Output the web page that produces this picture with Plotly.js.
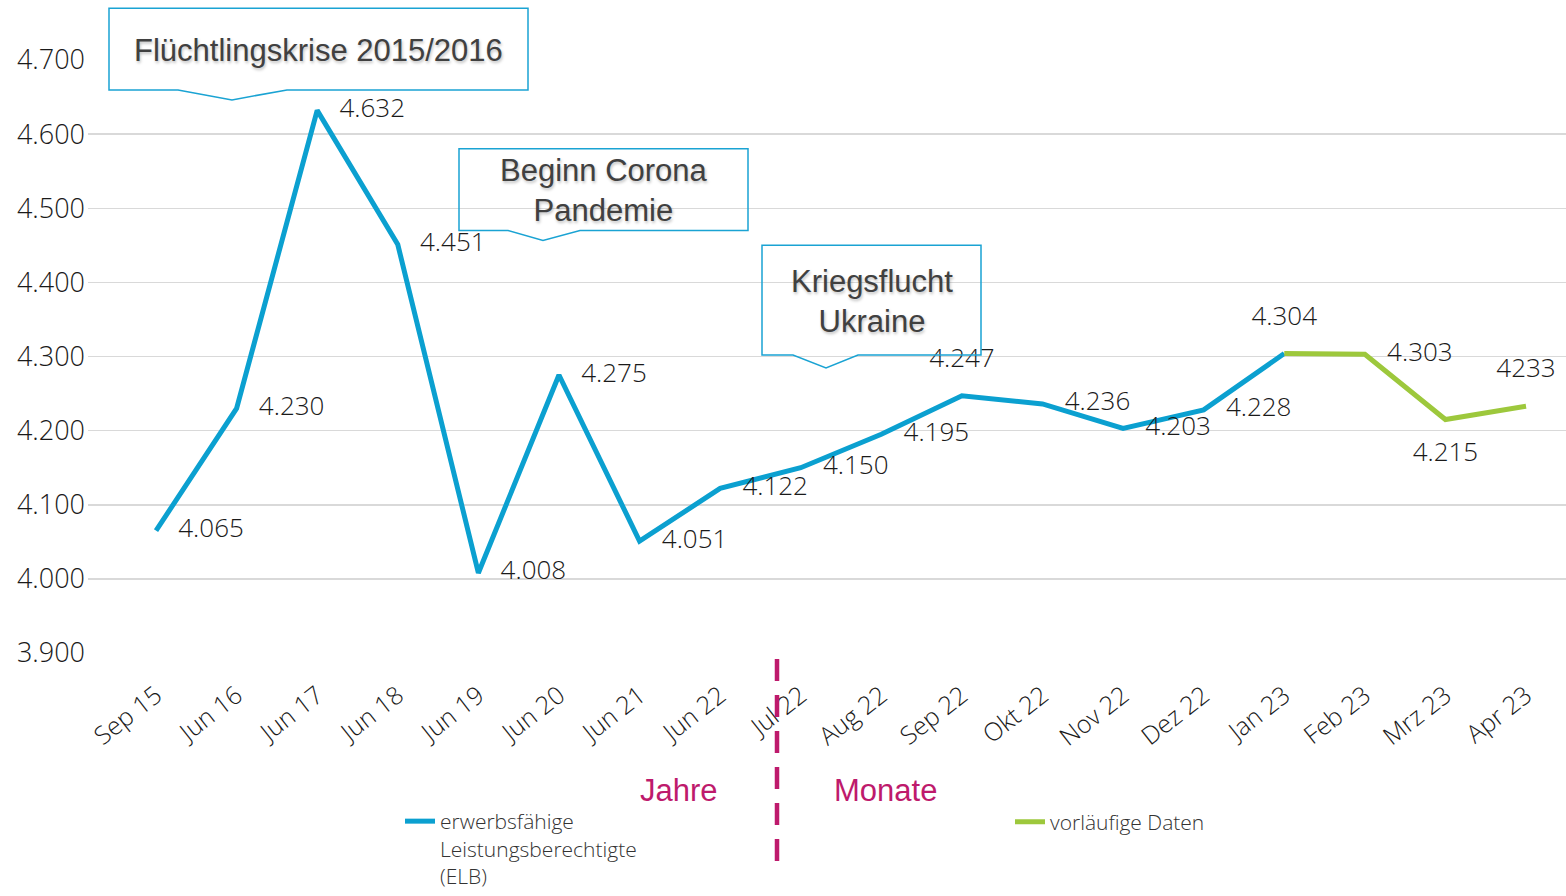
<!DOCTYPE html>
<html>
<head>
<meta charset="utf-8">
<script src="https://cdn.plot.ly/plotly-3.0.1.min.js"></script>
<style>
  html, body { margin: 0; padding: 0; background: #ffffff; }
  #chart { width: 1566px; height: 896px; }
</style>
</head>
<body>
<div id="chart"></div>
<script>
// ---- data ----
var categories = ['Sep 15','Jun 16','Jun 17','Jun 18','Jun 19','Jun 20','Jun 21','Jun 22','Jul 22','Aug 22','Sep 22','Okt 22','Nov 22','Dez 22','Jan 23','Feb 23','Mrz 23','Apr 23'];
var elbValues = [4065, 4230, 4632, 4451, 4008, 4275, 4051, 4122, 4150, 4195, 4247, 4236, 4203, 4228, 4304, null, null, null];
var elbLabels = ['4.065','4.230','4.632','4.451','4.008','4.275','4.051','4.122','4.150','4.195','4.247','4.236','4.203','4.228','4.304','','',''];
var prelimValues = [null, null, null, null, null, null, null, null, null, null, null, null, null, null, 4304, 4303, 4215, 4233];
var prelimLabels = ['','','','','','','','','','','','','','','','4.303','4.215','4233'];
var elbLabelPos = ['middle right','middle right','middle right','middle right','middle right','middle right','middle right','middle right','middle right','middle right','top center','middle right','middle right','middle right','top center','middle right','middle right','middle right'];
var prelimLabelPos = ['middle right','middle right','middle right','middle right','middle right','middle right','middle right','middle right','middle right','middle right','middle right','middle right','middle right','middle right','middle right','middle right','bottom center','top center'];
var seriesNames = ['erwerbsfähige<br>Leistungsberechtigte<br>(ELB)', 'vorläufige Daten'];
var yTicks = [3900, 4000, 4100, 4200, 4300, 4400, 4500, 4600, 4700];

// ---- geometry helpers (pixel -> paper) ----
var W = 1566, H = 896, L = 88, R = 0, T = 60, B = 241;
function px(x) { return (x - L) / (W - L - R); }
function py(y) { return (H - B - y) / (H - T - B); }
function callout(pts) {
  return 'M ' + pts.map(function (p) { return px(p[0]) + ',' + py(p[1]); }).join(' L ') + ' Z';
}

var blue = '#0BA0D0';
var green = '#9DC83C';
var magenta = '#BE1A6C';
var labelFont = { family: 'Open Sans, sans-serif', size: 26, color: '#1a1a1a', weight: 300 };
var clearMarker = { size: 34, color: 'rgba(0,0,0,0)', line: { width: 0 } };

var traces = [
  {
    x: categories, y: elbValues, text: elbLabels, textposition: elbLabelPos,
    type: 'scatter', mode: 'lines+markers+text', name: seriesNames[0],
    line: { color: blue, width: 5 },
    marker: clearMarker,
    textfont: labelFont, cliponaxis: false, legend: 'legend', hoverinfo: 'skip'
  },
  {
    x: categories, y: prelimValues, text: prelimLabels, textposition: prelimLabelPos,
    type: 'scatter', mode: 'lines+markers+text', name: seriesNames[1],
    line: { color: green, width: 5 },
    marker: clearMarker,
    textfont: labelFont, cliponaxis: false, legend: 'legend2', hoverinfo: 'skip'
  }
];

var boxLine = { color: '#1AA3D3', width: 1.5 };
var annFont = { family: 'Liberation Sans, Arial, sans-serif', size: 31, color: '#404040', weight: 'normal', shadow: '1px 2px 3px rgba(0,0,0,0.25)' };
var legendFont = { family: 'Open Sans, sans-serif', size: 21, color: '#333333', weight: 300 };

var layout = {
  width: W, height: H,
  margin: { l: L, r: R, t: T, b: B, pad: 0 },
  paper_bgcolor: '#ffffff', plot_bgcolor: '#ffffff',
  separators: ',.',
  showlegend: true,
  xaxis: {
    type: 'category',
    range: [-0.844, 17.496],
    showgrid: false, zeroline: false, showline: false,
    tickangle: -38,
    ticks: '', ticklabelstandoff: 22,
    tickfont: { family: 'Open Sans, sans-serif', size: 25, color: '#1a1a1a', weight: 300 }
  },
  yaxis: {
    range: [3900, 4700],
    tickvals: yTicks,
    tickformat: ',d',
    showgrid: true, gridcolor: '#d9d9d9', gridwidth: 1.5,
    zeroline: false, showline: false, ticks: '',
    ticklabelstandoff: 2,
    tickfont: { family: 'Open Sans, sans-serif', size: 27, color: '#1a1a1a', weight: 300 }
  },
  legend: {
    x: px(400), y: py(804), xanchor: 'left', yanchor: 'top',
    orientation: 'v', valign: 'top', itemwidth: 30,
    font: legendFont, bgcolor: 'rgba(0,0,0,0)', tracegroupgap: 0
  },
  legend2: {
    x: px(1010), y: py(804), xanchor: 'left', yanchor: 'top',
    orientation: 'v', valign: 'top', itemwidth: 30,
    font: legendFont, bgcolor: 'rgba(0,0,0,0)'
  },
  shapes: [
    { type: 'path', xref: 'paper', yref: 'paper', line: boxLine, fillcolor: 'rgba(0,0,0,0)',
      path: callout([[109,8],[528,8],[528,90],[287,90],[232,100],[178,90],[109,90]]) },
    { type: 'path', xref: 'paper', yref: 'paper', line: boxLine, fillcolor: 'rgba(0,0,0,0)',
      path: callout([[459,149],[748,149],[748,231],[580,231],[543,241],[508,231],[459,231]]) },
    { type: 'path', xref: 'paper', yref: 'paper', line: boxLine, fillcolor: 'rgba(0,0,0,0)',
      path: callout([[762,246],[981,246],[981,356],[858,356],[826,369],[793,356],[762,356]]) },
    { type: 'line', xref: 'paper', yref: 'paper', x0: px(777), x1: px(777), y0: py(661), y1: py(866),
      line: { color: magenta, width: 4.5, dash: '22px,14px' } }
  ],
  annotations: [
    { xref: 'paper', yref: 'paper', x: px(318), y: py(50), text: 'Flüchtlingskrise 2015/2016',
      showarrow: false, xanchor: 'center', yanchor: 'middle', font: annFont },
    { xref: 'paper', yref: 'paper', x: px(604), y: py(191), text: 'Beginn Corona<br>Pandemie',
      showarrow: false, xanchor: 'center', yanchor: 'middle', font: annFont },
    { xref: 'paper', yref: 'paper', x: px(872), y: py(302), text: 'Kriegsflucht<br>Ukraine',
      showarrow: false, xanchor: 'center', yanchor: 'middle', font: annFont },
    { xref: 'paper', yref: 'paper', x: px(679), y: py(793), text: 'Jahre',
      showarrow: false, xanchor: 'center', yanchor: 'middle',
      font: { family: 'Liberation Sans, Arial, sans-serif', size: 31, color: magenta } },
    { xref: 'paper', yref: 'paper', x: px(885), y: py(793), text: 'Monate',
      showarrow: false, xanchor: 'center', yanchor: 'middle',
      font: { family: 'Liberation Sans, Arial, sans-serif', size: 31, color: magenta } }
  ]
};

Plotly.newPlot('chart', traces, layout, { displayModeBar: false, staticPlot: true });
</script>
</body>
</html>
